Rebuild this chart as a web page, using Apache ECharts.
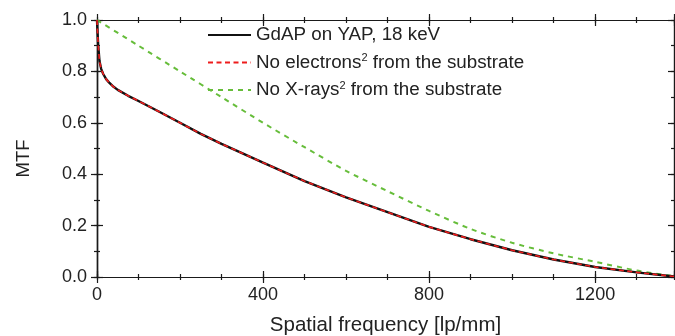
<!DOCTYPE html>
<html>
<head>
<meta charset="utf-8">
<script src="https://cdn.jsdelivr.net/npm/echarts@6/dist/echarts.min.js"></script>
<style>
html,body{margin:0;padding:0;background:#fff;}
#chart{width:675px;height:336px;}
</style>
</head>
<body>
<div id="chart"></div>
<script>
// Data
const freqMain = [0, 1, 3, 6, 10, 15, 22, 30, 40, 50, 75, 100, 150, 200, 250, 300, 400, 500, 600, 700, 800, 900, 1000, 1100, 1200, 1300, 1390];
const mtfGdAP = [1.0, 0.96, 0.90, 0.84, 0.81, 0.79, 0.77, 0.755, 0.74, 0.728, 0.705, 0.685, 0.643, 0.600, 0.557, 0.518, 0.445, 0.373, 0.310, 0.252, 0.195, 0.147, 0.104, 0.068, 0.039, 0.018, 0.002];
const mtfNoElectrons = [1.0, 0.96, 0.90, 0.84, 0.81, 0.79, 0.77, 0.755, 0.74, 0.728, 0.705, 0.685, 0.643, 0.600, 0.557, 0.518, 0.445, 0.373, 0.310, 0.252, 0.195, 0.147, 0.104, 0.068, 0.039, 0.018, 0.002];
const freqNoXrays = [0, 100, 200, 300, 400, 500, 600, 700, 800, 900, 1000, 1100, 1200, 1300, 1390];
const mtfNoXrays = [1.0, 0.90, 0.80, 0.70, 0.60, 0.505, 0.413, 0.334, 0.257, 0.187, 0.133, 0.092, 0.059, 0.025, 0.003];

const seriesNames = ['GdAP on YAP, 18 keV', 'No electrons{sup|2} from the substrate', 'No X-rays{sup|2} from the substrate'];
const xTitle = 'Spatial frequency [lp/mm]';
const yTitle = 'MTF';
const X_MIN = 0, X_MAX = 1390, X_MAJOR = 400, X_MINOR = 100;
const Y_MIN = 0, Y_MAX = 1, Y_MAJOR = 0.2, Y_MINOR = 0.1;

const FONT = 'Liberation Sans, Arial, sans-serif';
const AX = '#1a1a1a';

function pairs(xs, ys) { return xs.map((x, i) => [x, ys[i]]); }

function xAx(position, interval, len, inside, labels) {
  return {
    type: 'value', position, min: X_MIN, max: X_MAX, interval,
    axisLine: { show: true, onZero: false, lineStyle: { color: AX, width: 1.2 } },
    axisTick: { show: true, inside, length: len, lineStyle: { color: AX, width: 1.2 } },
    axisLabel: { show: labels, margin: 9, fontSize: 18, color: '#222', fontFamily: FONT, showMaxLabel: false,
      formatter: v => String(v) },
    splitLine: { show: false }
  };
}
function yAx(position, interval, len, inside, labels) {
  return {
    type: 'value', position, min: Y_MIN, max: Y_MAX, interval,
    axisLine: { show: true, onZero: false, lineStyle: { color: AX, width: 1.2 } },
    axisTick: { show: true, inside, length: len, lineStyle: { color: AX, width: 1.2 } },
    axisLabel: { show: labels, margin: 10, fontSize: 18, color: '#222', fontFamily: FONT,
      formatter: v => v.toFixed(1) },
    splitLine: { show: false }
  };
}

const xAxes = [
  Object.assign(xAx('bottom', X_MAJOR, 6, false, true), {
    name: xTitle, nameLocation: 'middle', nameGap: 38,
    nameTextStyle: { fontSize: 20.5, color: '#222', fontFamily: FONT }
  }),
  xAx('bottom', X_MAJOR, 6, true, false),
  xAx('bottom', X_MINOR, 3, false, false),
  xAx('bottom', X_MINOR, 3, true, false),
  xAx('top', X_MAJOR, 6, false, false),
  xAx('top', X_MAJOR, 6, true, false),
  xAx('top', X_MINOR, 3, false, false),
  xAx('top', X_MINOR, 3, true, false)
];
const yAxes = [
  Object.assign(yAx('left', Y_MAJOR, 6, false, true), {
    name: yTitle, nameLocation: 'middle', nameGap: 64, nameRotate: 90,
    nameTextStyle: { fontSize: 18.5, color: '#222', fontFamily: FONT, padding: [0, 20, 0, 0] }
  }),
  yAx('left', Y_MAJOR, 6, true, false),
  yAx('left', Y_MINOR, 3, false, false),
  yAx('left', Y_MINOR, 3, true, false),
  yAx('right', Y_MAJOR, 6, true, false),
  yAx('right', Y_MINOR, 3, true, false)
];

const chart = echarts.init(document.getElementById('chart'), null, { renderer: 'canvas' });
chart.setOption({
  animation: false,
  backgroundColor: '#fff',
  grid: { left: 97, right: 1, top: 20, bottom: 59, containLabel: false, outerBoundsMode: 'none' },
  xAxis: xAxes,
  yAxis: yAxes,
  legend: {
    orient: 'vertical', left: 202, top: 20,
    itemWidth: 43, itemHeight: 14, itemGap: 7.5,
    data: seriesNames,
    formatter: n => n,
    itemStyle: { color: 'rgba(0,0,0,0)', borderWidth: 0, opacity: 0 },
    textStyle: {
      fontSize: 18.8, color: '#222', fontFamily: FONT, lineHeight: 20,
      rich: { sup: { fontSize: 11, fontFamily: FONT, color: '#222', verticalAlign: 'top', lineHeight: 20, padding: [0, 0, 7, 0] } }
    }
  },
  series: [
    {
      name: seriesNames[2], type: 'line', data: pairs(freqNoXrays, mtfNoXrays),
      symbol: 'none', smooth: 0.25, z: 1,
      lineStyle: { color: '#66bd3a', width: 2, type: [5, 5] }, itemStyle: { color: '#66bd3a' }
    },
    {
      name: seriesNames[0], type: 'line', data: pairs(freqMain, mtfGdAP),
      symbol: 'none', smooth: false, z: 2,
      lineStyle: { color: '#111', width: 2.4, type: 'solid' }, itemStyle: { color: '#111' }
    },
    {
      name: seriesNames[1], type: 'line', data: pairs(freqMain, mtfNoElectrons),
      symbol: 'none', smooth: false, z: 3,
      lineStyle: { color: '#ee1c1c', width: 1.6, type: [5, 3.5] }, itemStyle: { color: '#ee1c1c' }
    }
  ]
});
</script>
</body>
</html>
